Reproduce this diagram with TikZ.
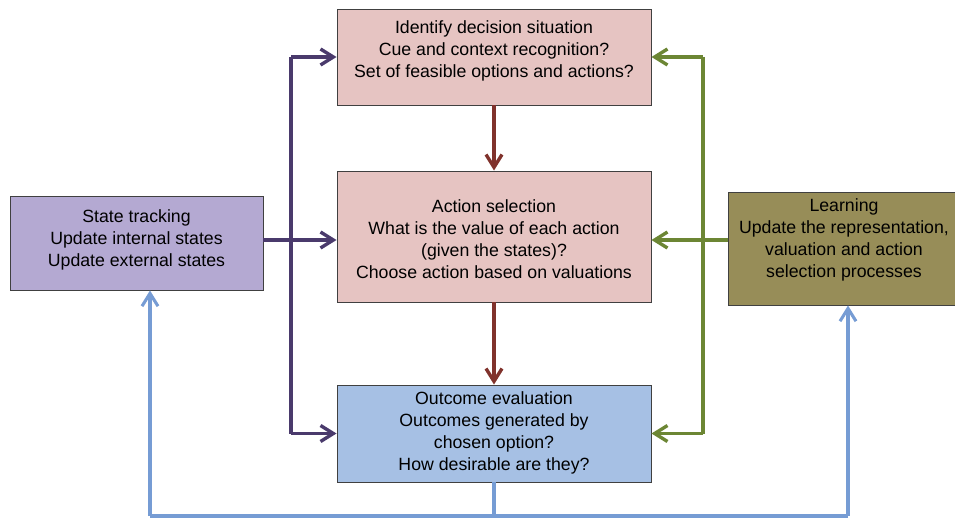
\documentclass[tikz,border=0pt]{standalone}
\usepackage{fontspec}
\setmainfont{Liberation Sans}
\definecolor{decpink}{RGB}{230,196,194}
\definecolor{declav}{RGB}{180,169,210}
\definecolor{decolive}{RGB}{151,141,88}
\definecolor{decblue}{RGB}{166,192,228}
\definecolor{decpurple}{RGB}{74,58,108}
\definecolor{decgreen}{RGB}{108,134,52}
\definecolor{decred}{RGB}{128,50,44}
\definecolor{decsky}{RGB}{118,156,212}
\newcommand{\boxtext}[2]{\raisebox{#1}[\height][\depth]{\begin{tabular}{@{}c@{}}#2\end{tabular}}}
\usetikzlibrary{arrows.meta, positioning}

\begin{document}
\begin{tikzpicture}[x=0.025cm, y=-0.025cm,
    box/.style={draw=black!75, line width=0.7pt, inner sep=2pt,
      font=\fontsize{12.6}{15.6}\selectfont},
    flow/.style={line width=2.4pt, -{Straight Barb[length=3.2mm, width=4mm]}},
    line/.style={line width=2.4pt}]
        \useasboundingbox (0,0) rectangle (955,518);
        % boxes
        \node[box, fill=decpink, minimum width=314*0.025cm, minimum height=96*0.025cm]
          (ident) at (494,57) {\boxtext{4.3pt}{Identify decision situation\\Cue and context recognition?\\Set of feasible options and actions?}};
        \node[box, fill=decpink, minimum width=314*0.025cm, minimum height=131*0.025cm]
          (select) at (494,236.5) {\boxtext{-3.2pt}{Action selection\\What is the value of each action\\(given the states)?\\Choose action based on valuations}};
        \node[box, fill=decblue, minimum width=314*0.025cm, minimum height=97*0.025cm]
          (outcome) at (494,433.5) {\boxtext{0pt}{Outcome evaluation\\Outcomes generated by\\chosen option?\\How desirable are they?}};
        \node[box, fill=declav, minimum width=253*0.025cm, minimum height=94*0.025cm]
          (state) at (136.5,243) {\boxtext{1.8pt}{State tracking\\Update internal states\\Update external states}};
        \node[box, fill=decolive, minimum width=232*0.025cm, minimum height=113*0.025cm]
          (learn) at (844,248.5) {\boxtext{6pt}{Learning\\Update the representation,\\valuation and action\\selection processes}};
        % left bus
        \coordinate (busL) at (291,0);
        \draw[line, decpurple] (busL |- ident.west) -- (busL |- outcome.west);
        \draw[flow, decpurple] (busL |- ident.west) -- (ident.west);
        \draw[flow, decpurple] (busL |- outcome.west) -- (outcome.west);
        \draw[flow, decpurple] (state.east |- 0,240) -- (select.west |- 0,240);
        % right bus
        \coordinate (busR) at (703,0);
        \draw[line, decgreen] (busR |- ident.east) -- (busR |- outcome.east);
        \draw[flow, decgreen] (busR |- ident.east) -- (ident.east);
        \draw[flow, decgreen] (busR |- outcome.east) -- (outcome.east);
        \draw[flow, decgreen] (learn.west |- 0,240) -- (select.east |- 0,240);
        % main chain
        \draw[flow, decred] (ident) -- (select);
        \draw[flow, decred] (select) -- (outcome);
        % feedback
        \coordinate (fbL) at (150,516);
        \coordinate (fbR) at (848,516);
        \draw[line, decsky, line width=2.2pt] (outcome.south) -- (outcome.south |- fbL);
        \draw[line, decsky, line width=2.2pt] (fbL) -- (fbR);
        \draw[flow, decsky, line width=2.2pt] (fbL) -- (fbL |- state.south);
        \draw[flow, decsky, line width=2.2pt] (fbR) -- (fbR |- learn.south);
      \end{tikzpicture}
\end{document}
